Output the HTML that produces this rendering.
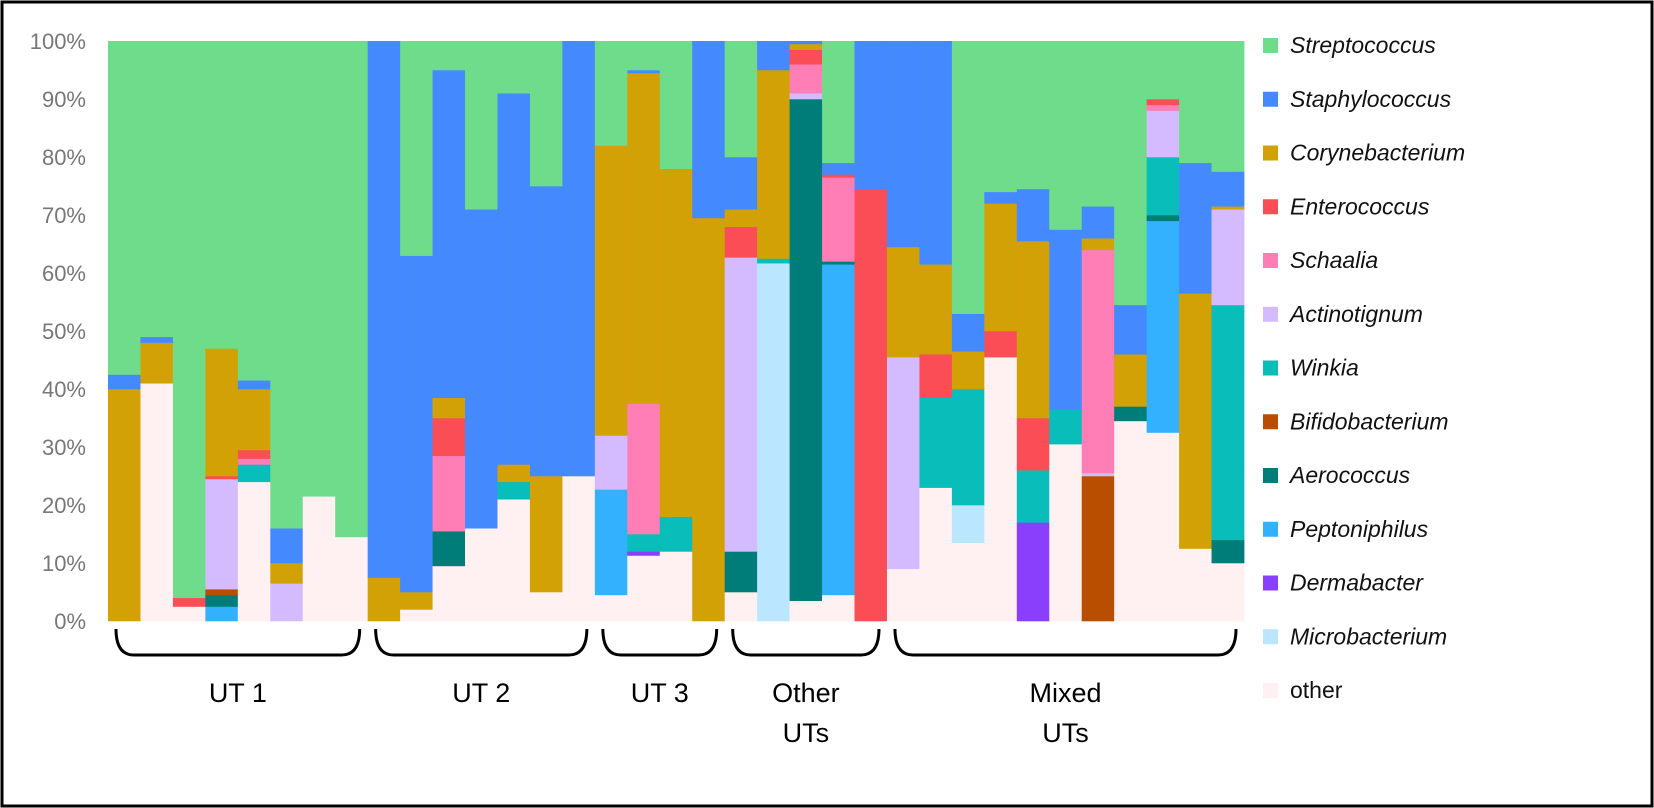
<!DOCTYPE html>
<html><head><meta charset="utf-8"><style>
html,body{margin:0;padding:0;background:#fff;}
body{width:1654px;height:808px;overflow:hidden;}
svg{display:block;font-family:"Liberation Sans",Arial,sans-serif;}
</style></head><body>
<svg id="chart" width="1654" height="808" viewBox="0 0 1654 808">
<rect x="2" y="2" width="1650" height="804" fill="#fff" stroke="#000" stroke-width="3"/>
<g id="bars"></g>
<g id="yaxis"></g>
<g id="legend"></g>
<g id="groups"></g>
</svg>
<script>
const species = ["other","Microbacterium","Dermabacter","Peptoniphilus","Aerococcus","Bifidobacterium","Winkia","Actinotignum","Schaalia","Enterococcus","Corynebacterium","Staphylococcus","Streptococcus"];
const colors = ["#fff0f1","#bae6ff","#8a3ffc","#33b1ff","#007d79","#ba4e00","#08bdba","#d4bbff","#ff7eb6","#fa4d56","#d2a106","#4589ff","#6fdc8c"];
// values per species across 35 samples (percent)
const other          = [0,41,2.5,0,24,0,21.5,14.5, 0,2,9.5,16,21,5,25, 4.5,11.3,12,0, 5,0,3.5,4.5,0, 9,23,13.5,45.5,0,30.5,0,34.5,32.5,12.5,10];
const microbacterium = [0,0,0,0,0,0,0,0, 0,0,0,0,0,0,0, 0,0,0,0, 0,61.7,0,0,0, 0,0,6.5,0,0,0,0,0,0,0,0];
const dermabacter    = [0,0,0,0,0,0,0,0, 0,0,0,0,0,0,0, 0,0.7,0,0, 0,0,0,0,0, 0,0,0,0,17,0,0,0,0,0,0];
const peptoniphilus  = [0,0,0,2.5,0,0,0,0, 0,0,0,0,0,0,0, 18.2,0,0,0, 0,0,0,57,0, 0,0,0,0,0,0,0,0,36.5,0,0];
const aerococcus     = [0,0,0,2,0,0,0,0, 0,0,6,0,0,0,0, 0,0,0,0, 7,0,86.5,0.5,0, 0,0,0,0,0,0,0,2.5,1,0,4];
const bifidobacterium= [0,0,0,1,0,0,0,0, 0,0,0,0,0,0,0, 0,0,0,0, 0,0,0,0,0, 0,0,0,0,0,0,25,0,0,0,0];
const winkia         = [0,0,0,0,3,0,0,0, 0,0,0,0,3,0,0, 0,3,6,0, 0,0.8,0,0,0, 0,15.5,20,0,9,6,0,0,10,0,40.5];
const actinotignum   = [0,0,0,19,0,6.5,0,0, 0,0,0,0,0,0,0, 9.3,0,0,0, 50.7,0,1,0,0, 36.5,0,0,0,0,0,0.5,0,8,0,16.5];
const schaalia       = [0,0,0,0,1,0,0,0, 0,0,13,0,0,0,0, 0,22.5,0,0, 0,0,5,14.5,0, 0,0,0,0,0,0,38.5,0,1,0,0];
const enterococcus   = [0,0,1.5,0.5,1.5,0,0,0, 0,0,6.5,0,0,0,0, 0,0,0,0, 5.3,0,2.5,0.5,74.5, 0,7.5,0,4.5,9,0,0,0,1,0,0];
const corynebacterium= [40,7,0,22,10.5,3.5,0,0, 7.5,3,3.5,0,3,20,0, 50,57,60,69.5, 3,32.5,1,0,0, 19,15.5,6.5,22,30.5,0,2,9,0,44,0.5];
const staphylococcus = [2.5,1,0,0,1.5,6,0,0, 92.5,58,56.5,55,64,50,75, 0,0.5,0,30.5, 9,5,0.5,2,25.5, 35.5,38.5,6.5,2,9,31,5.5,8.5,0,22.5,6];
const streptococcus  = [57.5,51,96,53,58.5,84,78.5,85.5, 0,37,5,29,9,25,0, 18,5,22,0, 20,0,0,21,0, 0,0,47,26,25.5,32.5,28.5,45.5,10,21,22.5];
const series = [other,microbacterium,dermabacter,peptoniphilus,aerococcus,bifidobacterium,winkia,actinotignum,schaalia,enterococcus,corynebacterium,staphylococcus,streptococcus];
const yTicks = [0,10,20,30,40,50,60,70,80,90,100];
const groupNames = [["UT 1"],["UT 2"],["UT 3"],["Other","UTs"],["Mixed","UTs"]];
const groupSizes = [8,7,4,5,11];

const NS="http://www.w3.org/2000/svg";
const X0=108, X1=1244, Y0=621, Y100=41;
const nBars = other.length;
const bw=(X1-X0)/nBars;
const xPos=i=>X0+i*bw;
const yPos=v=>Y0-(v/100)*(Y0-Y100);
function mk(tag,attrs,parent){const e=document.createElementNS(NS,tag);for(const k in attrs)e.setAttribute(k,attrs[k]);parent.appendChild(e);return e;}
const gB=document.getElementById('bars');
for(let i=0;i<nBars;i++){
  let cum=0;
  for(let s=0;s<series.length;s++){
    const v=series[s][i]; if(!v) continue;
    const yTop=yPos(cum+v), yBot=yPos(cum);
    const r=mk('rect',{x:xPos(i).toFixed(2),y:yTop.toFixed(2),width:(bw+0.4).toFixed(2),height:(yBot-yTop+0.3).toFixed(2),fill:colors[s]},gB);
    
    
    cum+=v;
  }
}
const gY=document.getElementById('yaxis');
yTicks.forEach(t=>{
  const tx=mk('text',{x:86,y:(yPos(t)+8).toFixed(1),'text-anchor':'end','font-size':'22',fill:'#777'},gY);
  tx.textContent=t+'%';
  
  
});
const gL=document.getElementById('legend');
const legOrder=[12,11,10,9,8,7,6,5,4,3,2,1,0];
legOrder.forEach((s,k)=>{
  const y=45+k*53.75;
  const g=mk('g',{},gL);
  
  
  mk('rect',{x:1263,y:y-7,width:15,height:15,fill:colors[s]},g);
  const t=mk('text',{x:1290,y:y+8,'font-size':'23',fill:'#111','font-style':s===0?'normal':'italic'},g);
  t.textContent=species[s];
});
const gG=document.getElementById('groups');
let start=0;
groupSizes.forEach((n,k)=>{
  const a=xPos(start)+8, b=xPos(start+n)-8;
  const g=mk('g',{},gG);
  
  
  mk('path',{d:`M${a},629 Q${a},655 ${a+18},655 L${b-18},655 Q${b},655 ${b},629`,fill:'none',stroke:'#000','stroke-width':'3'},g);
  const cx=(a+b)/2;
  groupNames[k].forEach((ln,j)=>{
    const t=mk('text',{x:cx,y:702+j*40,'text-anchor':'middle','font-size':'27',fill:'#000'},g);
    t.textContent=ln;
  });
  start+=n;
});
</script>
</body></html>
